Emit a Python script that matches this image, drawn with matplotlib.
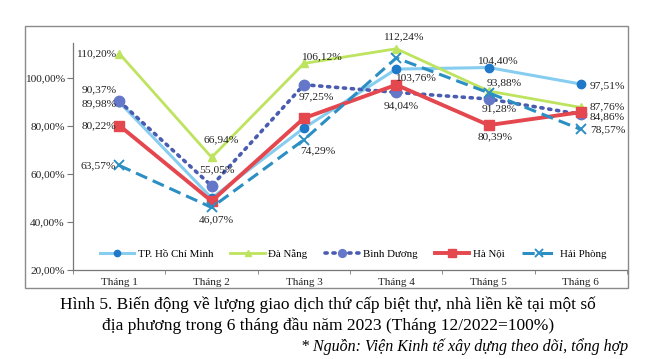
#line chart: secondary transactions of villas / townhouses in 5 localities, first 6 months 2023
import matplotlib
matplotlib.use('Agg')
import matplotlib.pyplot as plt
from matplotlib.patches import Rectangle
from matplotlib.ticker import FuncFormatter

plt.rcParams['font.family'] = ['Liberation Serif', 'DejaVu Serif']

#data (Tháng 12/2022 = 100%)
months = ['Tháng 1', 'Tháng 2', 'Tháng 3', 'Tháng 4', 'Tháng 5', 'Tháng 6']
hcm = [89.98, 50.0, 79.2, 103.76, 104.40, 97.51]
da_nang = [110.20, 66.94, 106.12, 112.24, 94.6, 87.76]
binh_duong = [90.37, 55.05, 97.25, 94.04, 91.28, 84.86]
ha_noi = [80.22, 48.7, 83.3, 97.2, 80.39, 85.8]
hai_phong = [63.57, 46.07, 74.29, 108.4, 93.88, 78.57]
names = ['TP. Hồ Chí Minh', 'Đà Nẵng', 'Bình Dương', 'Hà Nội', 'Hải Phòng']
y_ticks = [20, 40, 60, 80, 100]

fig = plt.figure(figsize=(6.65, 3.59), dpi=100)
ax = fig.add_axes([0.110, 0.248, 0.833, 0.632])
x = list(range(len(months)))

#one style per series (line colour, marker colour, marker, size, linestyle, width)
styles = [
    dict(color='#86cdf0', marker='o', mfc='#1f78c8', mec='#1f78c8', ms=6, ls='-', lw=2.2),
    dict(color='#bde35f', marker='^', mfc='#bde35f', mec='#bde35f', ms=6, ls='-', lw=2.0),
    dict(color='#4a5cb0', marker='o', mfc='#6577c8', mec='#6577c8', ms=7.5, ls=(0, (0.6, 1.6)), lw=2.6),
    dict(color='#e4474e', marker='s', mfc='#e4474e', mec='#e4474e', ms=7, ls='-', lw=2.8),
    dict(color='#2b8fc4', marker='x', mfc='#2b8fc4', mec='#2b8fc4', ms=7, mew=1.4, ls=(0, (4, 2)), lw=2.2),
]
series = [hcm, da_nang, binh_duong, ha_noi, hai_phong]
for vals, name, st in zip(series, names, styles):
    ax.plot(x, vals, label=name, dash_capstyle='round' if name == 'Bình Dương' else 'butt', **st)

#data labels: (series index, month index, dx px, dy px, ha)
labels = [
    (1, 0, -3, 0, 'right'), (2, 0, -20, 11, 'center'), (0, 0, -3, -2, 'right'),
    (3, 0, -3, 0, 'right'), (4, 0, -3, 0, 'right'),
    (1, 1, 10, 18, 'center'), (2, 1, 5, 16, 'center'), (4, 1, 5, -12, 'center'),
    (1, 2, 17, 7, 'center'), (2, 2, 12, -12, 'center'), (4, 2, 14, -11, 'center'),
    (1, 3, 7, 12, 'center'), (0, 3, 19, -9, 'center'), (2, 3, 5, -13, 'center'),
    (0, 4, 9, 7, 'center'), (4, 4, 16, 10, 'center'), (2, 4, 11, -10, 'center'),
    (3, 4, 7, -12, 'center'),
    (0, 5, 9, -2, 'left'), (1, 5, 9, 1, 'left'), (2, 5, 9, -2, 'left'), (4, 5, 9, 0, 'left'),
]
for si, mi, dx, dy, ha in labels:
    v = series[si][mi]
    ax.annotate(f'{v:.2f}%'.replace('.', ','), (mi, v), xytext=(dx * 0.72, dy * 0.72),
                textcoords='offset points', ha=ha, va='center', fontsize=8.2, color='#222222')

ax.set_xlim(-0.5, 5.5)
ax.set_ylim(20, 114.6)
ax.set_yticks(y_ticks)
ax.yaxis.set_major_formatter(FuncFormatter(lambda v, p: f'{v:.2f}%'.replace('.', ',')))
ax.set_xticks(x)
ax.set_xticklabels(months)
ax.set_xticks([i + 0.5 for i in range(-1, 6)], minor=True)
ax.tick_params(axis='x', which='major', length=0, pad=6, labelsize=8, colors='#222222')
ax.tick_params(axis='x', which='minor', length=3, color='#777777')
ax.tick_params(axis='y', length=4, pad=2, labelsize=8.2, colors='#222222', color='#777777')
for s in ['top', 'right']:
    ax.spines[s].set_visible(False)
for s in ['left', 'bottom']:
    ax.spines[s].set_color('#777777')
    ax.spines[s].set_linewidth(0.9)

ax.legend(loc='center', bbox_to_anchor=(0.505, 0.07), ncol=5, frameon=False, fontsize=7.8,
          handlelength=3.2, handletextpad=0.3, columnspacing=1.6, borderaxespad=0, markerscale=0.75)

#border of the chart area
fig.patches.append(Rectangle((25 / 665, 1 - 288 / 359), 603 / 665, 262 / 359,
                             transform=fig.transFigure, fill=False, ec='#8a8a8a', lw=1.0))

fig.text(0.493, 1 - 305 / 359, 'Hình 5. Biến động về lượng giao dịch thứ cấp biệt thự, nhà liền kề tại một số',
         ha='center', va='center', fontsize=12.5)
fig.text(0.493, 1 - 326 / 359, 'địa phương trong 6 tháng đầu năm 2023 (Tháng 12/2022=100%)',
         ha='center', va='center', fontsize=12.5)
fig.text(628 / 665, 1 - 347 / 359, '* Nguồn: Viện Kinh tế xây dựng theo dõi, tổng hợp',
         ha='right', va='center', fontsize=11.5, style='italic')

fig.savefig('out.png', dpi=100)
